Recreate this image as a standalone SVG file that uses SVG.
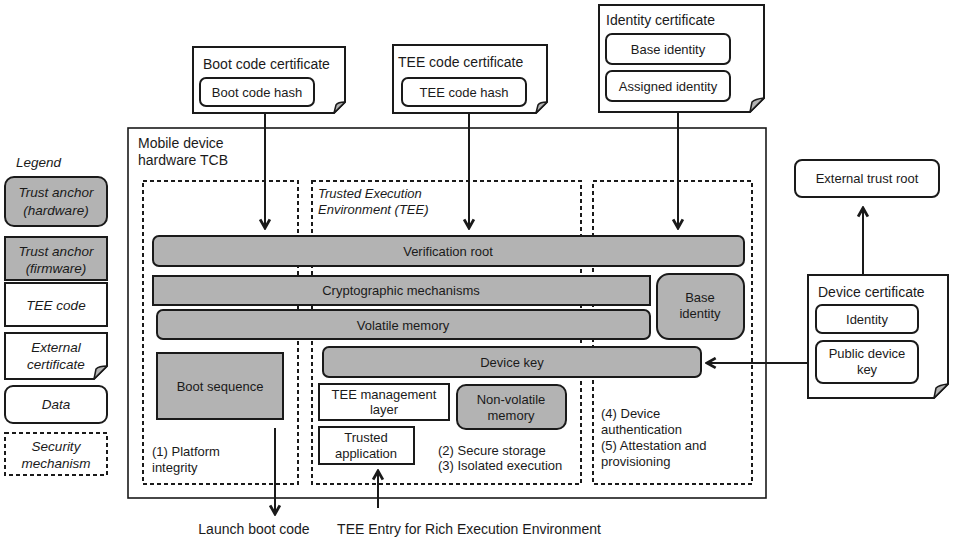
<svg xmlns="http://www.w3.org/2000/svg" width="954" height="539" viewBox="0 0 954 539">
  <defs>
    <style>
      text { font-family: "Liberation Sans", Arial, sans-serif; font-size: 13px; fill: #1a1a1a; }
      .it { font-style: italic; }
      .mid { text-anchor: middle; }
      .big { font-size: 14px; }
      .leg { font-size: 13.5px; }
      .gray { fill: #b3b3b3; stroke: #1a1a1a; stroke-width: 2; }
      .white { fill: #ffffff; stroke: #1a1a1a; stroke-width: 2; }
      .dash { fill: none; stroke: #1a1a1a; stroke-width: 2; stroke-dasharray: 4 3; }
      .frame { fill: #ffffff; stroke: #1a1a1a; stroke-width: 1.6; }
      .fold { fill: #b3b3b3; stroke: #1a1a1a; stroke-width: 1.5; stroke-linejoin: round; }
      .conn { fill: none; stroke: #1a1a1a; stroke-width: 2; marker-end: url(#arrow); }
    </style>
    <marker id="arrow" viewBox="0 0 12 12" refX="10" refY="6" markerWidth="6.5" markerHeight="6.5" markerUnits="strokeWidth" orient="auto">
      <path d="M2,1.5 L10,6 L2,10.5" fill="none" stroke="#1a1a1a" stroke-width="2.6"/>
    </marker>
  </defs>

  <rect width="954" height="539" fill="#ffffff"/>

  <!-- Legend -->
  <g id="legend">
    <text x="16" y="167" class="it leg">Legend</text>
    <rect x="5" y="177" width="102" height="49" rx="9" class="gray"/>
    <text x="56" y="197" class="it mid leg">Trust anchor</text>
    <text x="56" y="215" class="it mid leg">(hardware)</text>
    <rect x="5" y="237" width="102" height="43" class="gray"/>
    <text x="56" y="256" class="it mid leg">Trust anchor</text>
    <text x="56" y="273" class="it mid leg">(firmware)</text>
    <rect x="5" y="283" width="102" height="43" class="white"/>
    <text x="56" y="310" class="it mid leg">TEE code</text>
    <path d="M5,333 H107 V366 L94,379 H5 Z" class="white"/>
    <path d="M94,379 L107,366 Q99,366 96,369 Z" class="fold"/>
    <text x="56" y="352" class="it mid leg">External</text>
    <text x="56" y="369" class="it mid leg">certificate</text>
    <rect x="5" y="386" width="102" height="37" rx="8" class="white"/>
    <text x="56" y="409" class="it mid leg">Data</text>
    <rect x="5" y="433" width="102" height="42" class="dash"/>
    <text x="56" y="451" class="it mid leg">Security</text>
    <text x="56" y="468" class="it mid leg">mechanism</text>
  </g>

  <!-- Mobile device hardware TCB -->
  <g id="tcb">
    <rect x="128" y="128" width="638" height="370" class="frame"/>
    <text x="138" y="148" class="big">Mobile device</text>
    <text x="138" y="165" class="big">hardware TCB</text>
  </g>

  <!-- Security mechanism regions -->
  <g id="platform-integrity">
    <rect x="143" y="181" width="155" height="303" class="dash"/>
    <text x="152" y="456">(1) Platform</text>
    <text x="152" y="472">integrity</text>
  </g>
  <g id="tee">
    <rect x="312" y="181" width="269" height="303" class="dash"/>
    <text x="318" y="198" class="it">Trusted Execution</text>
    <text x="318" y="214" class="it">Environment (TEE)</text>
    <text x="438" y="455">(2) Secure storage</text>
    <text x="438" y="470">(3) Isolated execution</text>
  </g>
  <g id="device-auth">
    <rect x="593" y="181" width="159" height="303" class="dash"/>
    <text x="601" y="418">(4) Device</text>
    <text x="601" y="434">authentication</text>
    <text x="601" y="450">(5) Attestation and</text>
    <text x="601" y="466">provisioning</text>
  </g>

  <!-- Hardware and firmware components -->
  <g id="verification-root">
    <rect x="153" y="236" width="591" height="30" rx="6" class="gray"/>
    <text x="448" y="256" class="mid">Verification root</text>
  </g>
  <g id="crypto">
    <rect x="153" y="276" width="497" height="29" class="gray"/>
    <text x="401" y="295" class="mid">Cryptographic mechanisms</text>
  </g>
  <g id="volatile-memory">
    <rect x="157" y="310" width="493" height="29" rx="6" class="gray"/>
    <text x="403" y="330" class="mid">Volatile memory</text>
  </g>
  <g id="base-identity">
    <rect x="657" y="274" width="87" height="65" rx="12" class="gray"/>
    <text x="700" y="302" class="mid">Base</text>
    <text x="700" y="318" class="mid">identity</text>
  </g>
  <g id="device-key">
    <rect x="323" y="347" width="378" height="30" rx="6" class="gray"/>
    <text x="512" y="367" class="mid">Device key</text>
  </g>
  <g id="boot-sequence">
    <rect x="157" y="353" width="126" height="66" class="gray"/>
    <text x="220" y="391" class="mid">Boot sequence</text>
  </g>
  <g id="tee-management">
    <rect x="319" y="384" width="130" height="36" class="white"/>
    <text x="384" y="399" class="mid">TEE management</text>
    <text x="384" y="414" class="mid">layer</text>
  </g>
  <g id="non-volatile-memory">
    <rect x="457" y="385" width="109" height="44" rx="9" class="gray"/>
    <text x="511" y="404" class="mid">Non-volatile</text>
    <text x="511" y="420" class="mid">memory</text>
  </g>
  <g id="trusted-application">
    <rect x="319" y="427" width="95" height="37" class="white"/>
    <text x="366" y="442" class="mid">Trusted</text>
    <text x="366" y="458" class="mid">application</text>
  </g>

  <!-- Certificates -->
  <g id="boot-code-certificate">
    <path d="M193,47 H345 V102 L334,113 H193 Z" class="white"/>
    <path d="M334,113 L345,102 Q338,102 336,105 Z" class="fold"/>
    <text x="203" y="69" class="big">Boot code certificate</text>
    <rect x="200" y="78" width="114" height="28" rx="6" class="white"/>
    <text x="257" y="97" class="mid">Boot code hash</text>
  </g>
  <g id="tee-code-certificate">
    <path d="M393,45 H547 V102 L536,113 H393 Z" class="white"/>
    <path d="M536,113 L547,102 Q540,102 538,105 Z" class="fold"/>
    <text x="398" y="67" class="big">TEE code certificate</text>
    <rect x="402" y="78" width="124" height="28" rx="6" class="white"/>
    <text x="464" y="97" class="mid">TEE code hash</text>
  </g>
  <g id="identity-certificate">
    <path d="M599,5 H764 V98 L750,112 H599 Z" class="white"/>
    <path d="M750,112 L764,98 Q755,99 752,102 Z" class="fold"/>
    <text x="606" y="25" class="big">Identity certificate</text>
    <rect x="606" y="34" width="124" height="30" rx="6" class="white"/>
    <text x="668" y="54" class="mid">Base identity</text>
    <rect x="606" y="71" width="124" height="30" rx="6" class="white"/>
    <text x="668" y="91" class="mid">Assigned identity</text>
  </g>
  <g id="external-trust-root">
    <rect x="795" y="160" width="144" height="37" rx="7" class="white"/>
    <text x="867" y="183" class="mid">External trust root</text>
  </g>
  <g id="device-certificate">
    <path d="M808,275 H948 V384 L934,398 H808 Z" class="white"/>
    <path d="M934,398 L948,384 Q939,385 936,388 Z" class="fold"/>
    <text x="818" y="297" class="big">Device certificate</text>
    <rect x="816" y="305" width="102" height="28" rx="6" class="white"/>
    <text x="867" y="324" class="mid">Identity</text>
    <rect x="816" y="341" width="102" height="42" rx="7" class="white"/>
    <text x="867" y="358" class="mid">Public device</text>
    <text x="867" y="374" class="mid">key</text>
  </g>

  <!-- Outside labels -->
  <g id="labels">
    <text x="254" y="534" class="mid big">Launch boot code</text>
    <text x="469" y="534" class="mid big">TEE Entry for Rich Execution Environment</text>
  </g>

  <!-- Connectors -->
  <g id="connectors">
    <line x1="265" y1="113" x2="265" y2="228" class="conn"/>
    <line x1="469" y1="113" x2="469" y2="228" class="conn"/>
    <line x1="678" y1="112" x2="678" y2="228" class="conn"/>
    <line x1="863" y1="275" x2="863" y2="208" class="conn"/>
    <line x1="808" y1="363" x2="707" y2="363" class="conn"/>
    <line x1="275" y1="428" x2="275" y2="514" class="conn"/>
    <line x1="378" y1="508" x2="378" y2="471" class="conn"/>
  </g>
</svg>
